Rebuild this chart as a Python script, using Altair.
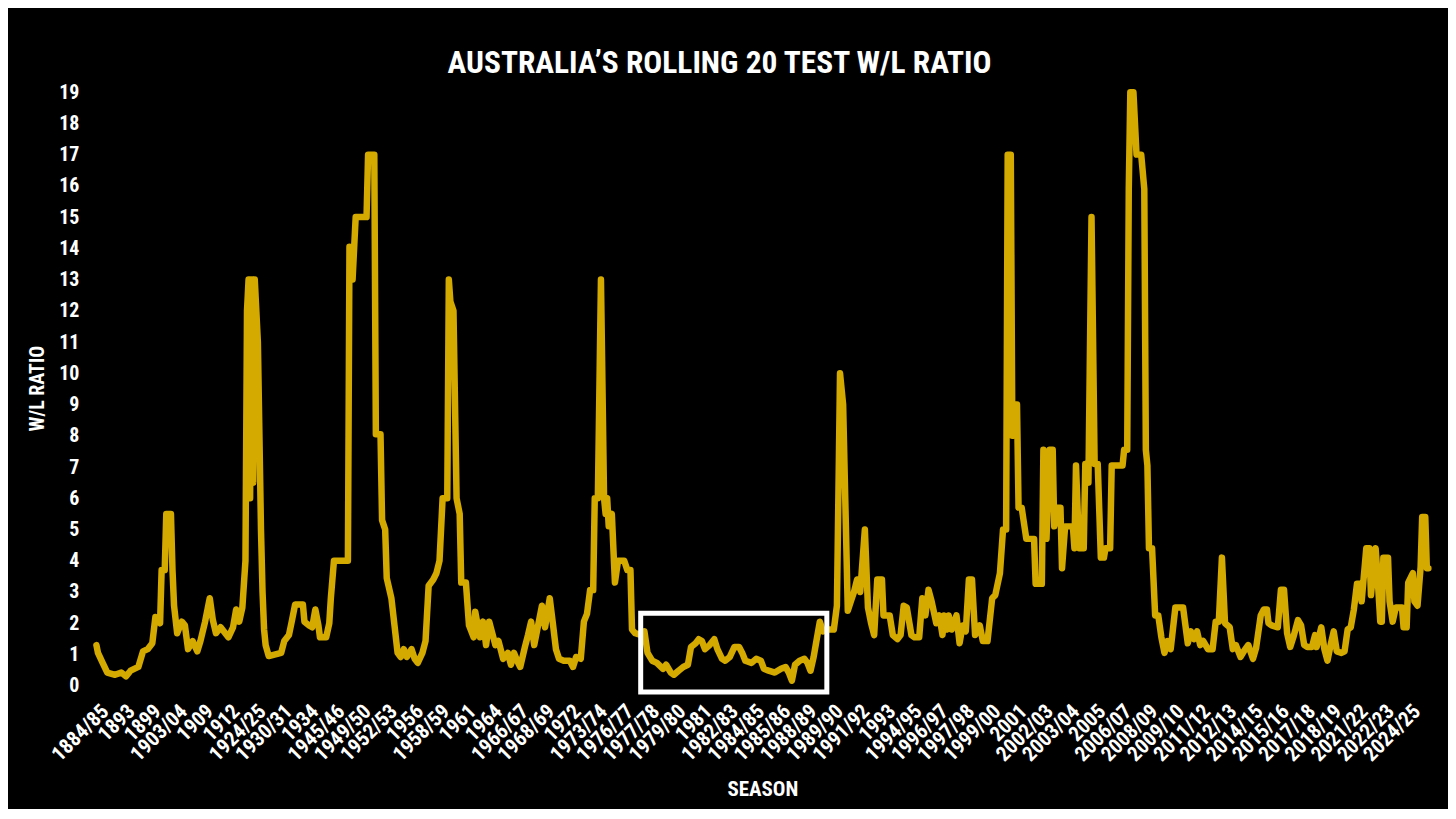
import json
import altair as alt
import pandas as pd

# Season tick labels (roughly one every 17 Tests of the rolling series)
seasons = ["1884/85", "1893", "1899", "1903/04", "1909", "1912", "1924/25", "1930/31", "1934",
           "1945/46", "1949/50", "1952/53", "1956", "1958/59", "1961", "1964", "1966/67", "1968/69",
           "1972", "1973/74", "1976/77", "1977/78", "1979/80", "1981", "1982/83", "1984/85", "1985/86",
           "1988/89", "1989/90", "1991/92", "1993", "1994/95", "1996/97", "1997/98", "1999/00", "2001",
           "2002/03", "2003/04", "2005", "2006/07", "2008/09", "2009/10", "2011/12", "2012/13",
           "2014/15", "2015/16", "2017/18", "2018/19", "2021/22", "2022/23", "2024/25"]
LABEL_STEP = 16.9

# (rolling index, W/L ratio)
era_1884_1930 = [(0, 1.3), (1, 1.05), (4, 0.73), (7, 0.42), (12, 0.35), (16, 0.42), (19, 0.3), (22, 0.48),
                 (27, 0.6), (30, 1.1), (33, 1.17), (36, 1.36), (38, 2.2), (41, 2.0), (42, 3.7), (44, 3.7),
                 (45, 5.5), (48, 5.5), (49, 3.7), (50, 2.56), (52, 1.68), (55, 2.05), (57, 1.93), (59, 1.17),
                 (62, 1.43), (65, 1.1), (67, 1.43), (70, 2.05), (73, 2.8), (75, 2.1), (77, 1.68), (80, 1.87),
                 (85, 1.55), (88, 1.87), (90, 2.44), (92, 2.05), (94, 2.5), (96, 4.0), (97, 12.0), (98, 13.0),
                 (99, 6.0), (100, 13.0), (101, 6.5), (102, 13.0), (103, 12.0), (104, 11.0), (106, 5.0),
                 (107, 3.0), (108, 1.8), (109, 1.3), (111, 0.95), (119, 1.05)]
era_1930_1960 = [(121, 1.43), (124, 1.62), (126, 2.1), (128, 2.6), (133, 2.6), (134, 2.05), (137, 1.93),
                 (139, 1.87), (141, 2.44), (143, 1.93), (144, 1.55), (148, 1.55), (150, 2.0), (151, 2.8),
                 (153, 4.0), (162, 4.0), (163, 14.05), (165, 13.0), (167, 15.0), (174, 15.0), (175, 17.0),
                 (179, 17.0), (180, 8.05), (183, 8.05), (184, 5.3), (186, 5.0), (187, 3.45), (190, 2.8),
                 (192, 1.93), (194, 1.05), (196, 0.92), (198, 1.17), (200, 0.92), (203, 1.17), (205, 0.86),
                 (207, 0.73), (210, 1.05), (212, 1.43), (214, 3.2), (217, 3.4), (219, 3.6), (221, 4.0),
                 (223, 6.0), (226, 6.0), (227, 13.0), (228, 12.3), (230, 12.0), (232, 6.0), (234, 5.5),
                 (235, 3.3), (238, 3.3), (240, 1.93), (243, 1.55)]
era_1960_1977 = [(244, 2.37), (247, 1.55), (249, 2.05), (251, 1.3), (253, 2.05), (255, 1.68), (257, 1.3),
                 (259, 1.43), (262, 0.86), (265, 1.05), (267, 0.67), (269, 1.05), (271, 0.8), (273, 0.6),
                 (276, 1.24), (278, 1.62), (280, 2.05), (282, 1.3), (284, 1.8), (287, 2.56), (289, 1.87),
                 (292, 2.8), (294, 2.0), (296, 1.17), (298, 0.86), (301, 0.8), (305, 0.8), (307, 0.6),
                 (309, 0.92), (312, 0.86), (314, 2.05), (316, 2.3), (318, 3.06), (320, 3.06), (321, 6.0),
                 (323, 6.0), (325, 13.0), (327, 6.0), (328, 5.5), (329, 6.0), (330, 5.1), (332, 5.5),
                 (334, 3.3), (336, 4.0), (340, 4.0), (342, 3.7), (344, 3.7), (345, 1.8), (347, 1.68),
                 (351, 1.62), (353, 1.74), (355, 1.05), (358, 0.8), (361, 0.73), (365, 0.54), (367, 0.67),
                 (370, 0.42)]
era_1977_1990 = [(372, 0.35), (375, 0.48), (378, 0.6), (381, 0.67), (383, 1.24), (386, 1.36), (388, 1.49),
                 (390, 1.43), (392, 1.17), (395, 1.3), (398, 1.49), (400, 1.17), (403, 0.86), (405, 0.8),
                 (408, 0.92), (411, 1.24), (414, 1.24), (416, 1.05), (418, 0.8), (422, 0.73), (425, 0.86),
                 (428, 0.8), (430, 0.54), (433, 0.48), (437, 0.42), (441, 0.54), (444, 0.6), (446, 0.42),
                 (448, 0.16), (450, 0.67), (453, 0.8), (456, 0.86), (458, 0.73), (460, 0.48), (462, 0.92),
                 (464, 1.49), (466, 2.05), (468, 1.74), (472, 1.8), (475, 1.8), (477, 2.56)]
era_1990_2006 = [(479, 10.0), (481, 9.0), (483, 4.6), (484, 2.4), (486, 2.7), (488, 3.0), (490, 3.4),
                 (492, 3.0), (495, 5.0), (497, 2.5), (499, 2.0), (501, 1.62), (503, 3.4), (506, 3.4),
                 (507, 2.25), (511, 2.25), (513, 1.62), (516, 1.49), (518, 1.62), (520, 2.56), (522, 2.5),
                 (525, 1.62), (527, 1.55), (530, 1.55), (532, 2.8), (534, 2.25), (536, 3.07), (538, 2.7),
                 (541, 2.0), (543, 2.25), (545, 1.62), (546, 2.25), (548, 1.8), (549, 2.25), (551, 1.8),
                 (554, 2.25), (556, 1.36), (558, 1.93), (560, 1.74), (562, 3.4), (564, 3.4), (566, 1.62),
                 (569, 1.93), (571, 1.43), (574, 1.43), (577, 2.8), (579, 2.9), (582, 3.6), (584, 5.0),
                 (586, 5.0), (587, 17.0), (589, 17.0), (590, 8.0), (591, 9.0), (593, 9.0), (594, 5.7),
                 (596, 5.7), (599, 4.7), (604, 4.7), (605, 3.26), (609, 3.26), (610, 7.55), (612, 4.7),
                 (614, 7.55), (616, 7.55), (617, 5.1), (619, 5.7), (621, 5.7), (622, 3.76), (624, 5.1),
                 (629, 5.1), (630, 4.4), (631, 7.05), (633, 4.4), (636, 4.4), (637, 7.1), (639, 6.5),
                 (641, 15.0), (643, 7.1), (645, 7.1), (647, 4.1), (649, 4.1), (650, 4.4), (653, 4.4),
                 (654, 7.05), (661, 7.05), (662, 7.55), (664, 7.55)]
era_2006_2025 = [(665, 15.9), (666, 19.0), (668, 19.0), (670, 17.0), (673, 17.0), (675, 15.9), (676, 7.55),
                 (677, 7.05), (678, 4.4), (680, 4.4), (682, 2.25), (684, 2.25), (686, 1.55), (688, 1.05),
                 (690, 1.43), (692, 1.17), (695, 2.5), (700, 2.5), (703, 1.36), (705, 1.74), (707, 1.49),
                 (709, 1.74), (711, 1.3), (713, 1.43), (716, 1.17), (719, 1.17), (721, 2.05), (723, 2.05),
                 (725, 4.1), (727, 2.0), (730, 1.87), (732, 1.17), (734, 1.3), (737, 0.92), (740, 1.17),
                 (742, 1.3), (745, 0.86), (747, 1.2), (750, 2.25), (752, 2.44), (754, 2.44), (755, 2.0),
                 (757, 1.93), (761, 1.87), (763, 3.07), (765, 3.07), (767, 1.68), (769, 1.24), (771, 1.55),
                 (774, 2.1), (776, 1.93), (778, 1.3), (780, 1.24), (783, 1.24), (785, 1.62), (786, 1.24),
                 (789, 1.87), (791, 1.17), (793, 0.8), (795, 1.3), (797, 1.74), (799, 1.1), (802, 1.05),
                 (804, 1.1), (806, 1.8), (808, 1.87), (810, 2.44), (812, 3.26), (814, 3.26), (815, 2.7),
                 (818, 4.4), (820, 4.4), (821, 2.9), (824, 4.4), (825, 3.7), (827, 2.05), (828, 2.05),
                 (829, 4.1), (832, 4.1), (833, 2.7), (835, 2.05), (837, 2.5), (841, 2.5), (842, 1.87),
                 (844, 1.87), (845, 3.3), (848, 3.6), (849, 2.7), (851, 2.56), (853, 3.8), (854, 5.4),
                 (856, 5.4), (857, 3.76), (858, 3.76)]

points = era_1884_1930 + era_1930_1960 + era_1960_1977 + era_1977_1990 + era_1990_2006 + era_2006_2025
df = pd.DataFrame(points, columns=["test", "ratio"])

# Highlighted slump (1977/78 - 1989/90)
highlight = pd.DataFrame({"x0": [350.6], "x1": [470.5], "y0": [-0.2], "y1": [2.32]})

FONT = "Roboto Condensed, Roboto, sans-serif"
GOLD = "#D4AA00"

label_expr = json.dumps(seasons) + "[round(datum.value / %s)]" % LABEL_STEP
tick_values = [round(i * LABEL_STEP, 2) for i in range(len(seasons))]

x_enc = alt.X(
    "test:Q",
    scale=alt.Scale(domain=[-3, 861], nice=False, zero=False),
    axis=alt.Axis(
        values=tick_values, tickCount=200, labelExpr=label_expr, labelAngle=-45, labelAlign="right",
        labelBaseline="top", labelPadding=2, labelOffset=1, labelOverlap=False,
        labelFlush=False, labelFontSize=21, ticks=False, domain=False, grid=False,
        title="SEASON", titleY=92, titleBaseline="middle", titleFontSize=21,
    ),
)
y_enc = alt.Y(
    "ratio:Q",
    scale=alt.Scale(domain=[-0.4, 19.2], nice=False, zero=False),
    axis=alt.Axis(
        values=list(range(0, 20)), tickCount=200, format="d", labelAlign="right",
        labelBaseline="middle", labelPadding=13, labelOverlap=False, labelFontSize=20,
        ticks=False, domain=False, grid=False,
        title="W/L RATIO", titleX=-54, titleY=303, titleAlign="center", titleBaseline="middle",
        titleFontSize=20,
    ),
)

line = alt.Chart(df).mark_line(color=GOLD, strokeWidth=6.5, strokeJoin="round", strokeCap="round").encode(
    x=x_enc, y=y_enc
)
box = alt.Chart(highlight).mark_rect(fillOpacity=0, stroke="white", strokeWidth=5).encode(
    x="x0:Q", x2="x1", y="y0:Q", y2="y1"
)

chart = (
    alt.layer(line, box)
    .properties(
        width=1345,
        height=614,
        background="black",
        padding={"left": 84, "top": 77, "right": 15, "bottom": 110},
        autosize=alt.AutoSizeParams(type="none"),
        title=alt.TitleParams(
            text="AUSTRALIA\u2019S ROLLING 20 TEST W/L RATIO", font=FONT, fontSize=31.5,
            fontWeight="bold", color="white", anchor="middle", dx=-43, offset=3,
        ),
    )
    .configure_view(strokeWidth=0)
    .configure_axis(
        labelColor="white", titleColor="white", labelFont=FONT, titleFont=FONT,
        labelFontWeight="bold", titleFontWeight="bold", labelOverlap=False,
    )
)

chart.save("out.html", embed_options={"renderer": "svg", "actions": False})
